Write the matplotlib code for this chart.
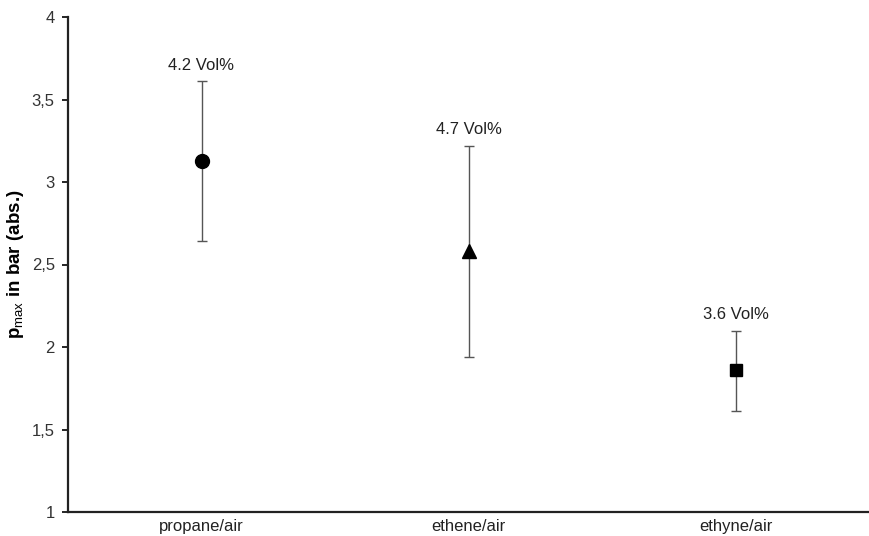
import numpy as np
import matplotlib.pyplot as plt

plt.rcParams['font.family'] = ['Liberation Sans', 'DejaVu Sans']
plt.rcParams['mathtext.fontset'] = 'custom'
plt.rcParams['mathtext.rm'] = 'Liberation Sans'
plt.rcParams['mathtext.bf'] = 'Liberation Sans:bold'

mixtures = ["propane/air", "ethene/air", "ethyne/air"]
p_max = [3.13, 2.58, 1.86]
err_top = [3.61, 3.22, 2.10]
err_bottom = [2.64, 1.94, 1.61]
conc_labels = ["4.2 Vol%", "4.7 Vol%", "3.6 Vol%"]
markers = ["o", "^", "s"]
y_ticks = [1, 1.5, 2, 2.5, 3, 3.5, 4]
y_tick_labels = ["1", "1,5", "2", "2,5", "3", "3,5", "4"]

fig = plt.figure(figsize=(8.69, 5.36), dpi=100)
ax = fig.add_axes([68 / 869, 24 / 536, 1 - 68 / 869, (512 - 17) / 536])

x = np.arange(1, len(mixtures) + 1)
for xi, y, top, bot, m, lab in zip(x, p_max, err_top, err_bottom, markers, conc_labels):
    ax.errorbar([xi], [y], yerr=[[y - bot], [top - y]], fmt="none",
                ecolor="#555555", elinewidth=1.0, capsize=3.5, capthick=1.0)
    ax.plot([xi], [y], marker=m, color="black", markersize=10 if m != "s" else 9,
            linestyle="none", zorder=3)
    ax.annotate(lab, (xi, top), xytext=(0, 6), textcoords="offset points",
                ha="center", va="bottom", fontsize=12, color="#222222")

ax.set_xlim(0.5, 3.5)
ax.set_ylim(1, 4)
ax.set_xticks(x)
ax.set_xticklabels(mixtures, fontsize=12, color="#222222")
ax.set_yticks(y_ticks)
ax.set_yticklabels(y_tick_labels, fontsize=12, color="#333333")
ax.tick_params(axis="x", length=0, pad=5)
ax.tick_params(axis="y", length=4.5, width=1.2, direction="out", pad=5)

ax.set_ylabel(r"$\mathbf{p}_{\mathrm{max}}$ in bar (abs.)", fontsize=13.5, fontweight="bold")
ax.yaxis.set_label_coords(-42 / 801, 0.5)

for side in ["top", "right"]:
    ax.spines[side].set_visible(False)
ax.spines["left"].set_linewidth(1.6)
ax.spines["bottom"].set_linewidth(1.6)
ax.spines["left"].set_color("#222222")
ax.spines["bottom"].set_color("#222222")

fig.savefig("out.png", dpi=100)
